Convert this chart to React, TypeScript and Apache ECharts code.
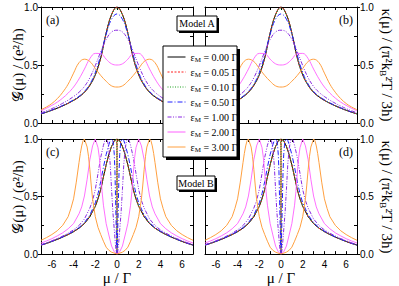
import React, { useEffect, useRef } from 'react';
import * as echarts from 'echarts';

// ---- data ----
const epsLabels = ['0.00', '0.05', '0.10', '0.50', '1.00', '2.00', '3.00'];
const xTickLabels = ['-6', '-4', '-2', '0', '2', '4', '6'];
const yTickLabels = ['0.0', '0.5', '1.0'];

// Model A grid (mu / Gamma)
const muA = [-7, -6.5, -6, -5.5, -5, -4.5, -4, -3.5, -3, -2.5, -2, -1.5, -1, -0.5, 0, 0.5, 1, 1.5, 2, 2.5, 3, 3.5, 4, 4.5, 5, 5.5, 6, 6.5, 7];
const gA_000 = [0.078, 0.093, 0.11, 0.128, 0.148, 0.17, 0.195, 0.225, 0.265, 0.325, 0.415, 0.56, 0.775, 0.935, 1.0, 0.935, 0.775, 0.56, 0.415, 0.325, 0.265, 0.225, 0.195, 0.17, 0.148, 0.128, 0.11, 0.093, 0.078];
const gA_005 = [0.078, 0.093, 0.11, 0.128, 0.148, 0.17, 0.195, 0.225, 0.265, 0.325, 0.415, 0.56, 0.775, 0.935, 0.998, 0.935, 0.775, 0.56, 0.415, 0.325, 0.265, 0.225, 0.195, 0.17, 0.148, 0.128, 0.11, 0.093, 0.078];
const gA_010 = [0.078, 0.093, 0.11, 0.128, 0.148, 0.17, 0.196, 0.226, 0.266, 0.327, 0.418, 0.563, 0.775, 0.93, 0.99, 0.93, 0.775, 0.563, 0.418, 0.327, 0.266, 0.226, 0.196, 0.17, 0.148, 0.128, 0.11, 0.093, 0.078];
const gA_050 = [0.08, 0.095, 0.112, 0.131, 0.151, 0.174, 0.2, 0.23, 0.272, 0.335, 0.435, 0.585, 0.765, 0.895, 0.94, 0.895, 0.765, 0.585, 0.435, 0.335, 0.272, 0.23, 0.2, 0.174, 0.151, 0.131, 0.112, 0.095, 0.08];
const gA_100 = [0.088, 0.105, 0.124, 0.146, 0.17, 0.197, 0.228, 0.265, 0.315, 0.39, 0.495, 0.615, 0.72, 0.785, 0.8, 0.785, 0.72, 0.615, 0.495, 0.39, 0.315, 0.265, 0.228, 0.197, 0.17, 0.146, 0.124, 0.105, 0.088];
const gA_200 = [0.105, 0.127, 0.152, 0.18, 0.215, 0.258, 0.31, 0.38, 0.465, 0.555, 0.6, 0.598, 0.55, 0.51, 0.5, 0.51, 0.55, 0.598, 0.6, 0.555, 0.465, 0.38, 0.31, 0.258, 0.215, 0.18, 0.152, 0.127, 0.105];
const gA_300 = [0.115, 0.138, 0.168, 0.21, 0.265, 0.335, 0.43, 0.52, 0.55, 0.53, 0.47, 0.41, 0.36, 0.32, 0.31, 0.32, 0.36, 0.41, 0.47, 0.53, 0.55, 0.52, 0.43, 0.335, 0.265, 0.21, 0.168, 0.138, 0.115];

// Model B curves as [mu, value] pairs
const gB_000 = [[-7, 0.078], [-6.5, 0.093], [-6, 0.11], [-5.5, 0.128], [-5, 0.148], [-4.5, 0.17], [-4, 0.195], [-3.5, 0.225], [-3, 0.265], [-2.5, 0.325], [-2, 0.415], [-1.75, 0.48], [-1.5, 0.56], [-1.25, 0.67], [-1, 0.775], [-0.75, 0.865], [-0.5, 0.935], [-0.25, 0.985], [0, 1], [0.25, 0.985], [0.5, 0.935], [0.75, 0.865], [1, 0.775], [1.25, 0.67], [1.5, 0.56], [1.75, 0.48], [2, 0.415], [2.5, 0.325], [3, 0.265], [3.5, 0.225], [4, 0.195], [4.5, 0.17], [5, 0.148], [5.5, 0.128], [6, 0.11], [6.5, 0.093], [7, 0.078]];
const gB_005 = [[-7, 0.078], [-6.5, 0.093], [-6, 0.11], [-5.5, 0.128], [-5, 0.148], [-4.5, 0.17], [-4, 0.195], [-3.5, 0.225], [-3, 0.265], [-2.5, 0.325], [-2, 0.415], [-1.75, 0.48], [-1.5, 0.56], [-1.25, 0.67], [-1, 0.775], [-0.75, 0.865], [-0.5, 0.935], [-0.25, 0.985], [-0.05, 1], [-0.005, 0.93], [-0.0025, 0.775], [-0.001, 0.3], [0, 0], [0.001, 0.3], [0.0025, 0.775], [0.005, 0.93], [0.05, 1], [0.25, 0.985], [0.5, 0.935], [0.75, 0.865], [1, 0.775], [1.25, 0.67], [1.5, 0.56], [1.75, 0.48], [2, 0.415], [2.5, 0.325], [3, 0.265], [3.5, 0.225], [4, 0.195], [4.5, 0.17], [5, 0.148], [5.5, 0.128], [6, 0.11], [6.5, 0.093], [7, 0.078]];
const gB_010 = [[-7, 0.078], [-6.5, 0.093], [-6, 0.11], [-5.5, 0.128], [-5, 0.148], [-4.5, 0.17], [-4, 0.195], [-3.5, 0.226], [-3, 0.266], [-2.5, 0.326], [-2, 0.417], [-1.75, 0.482], [-1.5, 0.562], [-1.25, 0.672], [-1, 0.778], [-0.75, 0.868], [-0.5, 0.937], [-0.25, 0.98], [-0.1, 1], [-0.025, 0.96], [-0.0125, 0.82], [-0.005, 0.4], [0, 0], [0.005, 0.4], [0.0125, 0.82], [0.025, 0.96], [0.1, 1], [0.25, 0.98], [0.5, 0.937], [0.75, 0.868], [1, 0.778], [1.25, 0.672], [1.5, 0.562], [1.75, 0.482], [2, 0.417], [2.5, 0.326], [3, 0.266], [3.5, 0.226], [4, 0.195], [4.5, 0.17], [5, 0.148], [5.5, 0.128], [6, 0.11], [6.5, 0.093], [7, 0.078]];
const gB_050 = [[-7, 0.079], [-6.5, 0.094], [-6, 0.111], [-5.5, 0.13], [-5, 0.15], [-4.5, 0.173], [-4, 0.199], [-3.5, 0.23], [-3, 0.273], [-2.5, 0.34], [-2, 0.445], [-1.75, 0.525], [-1.5, 0.63], [-1.25, 0.755], [-1, 0.865], [-0.75, 0.95], [-0.625, 0.987], [-0.5, 1], [-0.4375, 0.996], [-0.375, 0.98], [-0.3125, 0.94], [-0.25, 0.865], [-0.1875, 0.715], [-0.125, 0.445], [-0.0625, 0.199], [-0.03, 0.058], [0, 0], [0.03, 0.058], [0.0625, 0.199], [0.125, 0.445], [0.1875, 0.715], [0.25, 0.865], [0.3125, 0.94], [0.375, 0.98], [0.4375, 0.996], [0.5, 1], [0.625, 0.987], [0.75, 0.95], [1, 0.865], [1.25, 0.755], [1.5, 0.63], [1.75, 0.525], [2, 0.445], [2.5, 0.34], [3, 0.273], [3.5, 0.23], [4, 0.199], [4.5, 0.173], [5, 0.15], [5.5, 0.13], [6, 0.111], [6.5, 0.094], [7, 0.079]];
const gB_100 = [[-7, 0.082], [-6.5, 0.098], [-6, 0.116], [-5.5, 0.135], [-5, 0.157], [-4.5, 0.182], [-4, 0.21], [-3.5, 0.248], [-3, 0.305], [-2.5, 0.4], [-2.25, 0.465], [-2, 0.56], [-1.75, 0.7], [-1.5, 0.84], [-1.25, 0.945], [-1.125, 0.986], [-1, 1], [-0.875, 0.983], [-0.75, 0.915], [-0.625, 0.78], [-0.5, 0.56], [-0.375, 0.36], [-0.25, 0.21], [-0.125, 0.063], [-0.0625, 0.02], [0, 0], [0.0625, 0.02], [0.125, 0.063], [0.25, 0.21], [0.375, 0.36], [0.5, 0.56], [0.625, 0.78], [0.75, 0.915], [0.875, 0.983], [1, 1], [1.125, 0.986], [1.25, 0.945], [1.5, 0.84], [1.75, 0.7], [2, 0.56], [2.25, 0.465], [2.5, 0.4], [3, 0.305], [3.5, 0.248], [4, 0.21], [4.5, 0.182], [5, 0.157], [5.5, 0.135], [6, 0.116], [6.5, 0.098], [7, 0.082]];
const gB_200 = [[-7, 0.096], [-6.5, 0.114], [-6, 0.134], [-5.5, 0.158], [-5, 0.185], [-4.5, 0.22], [-4, 0.265], [-3.5, 0.35], [-3.25, 0.41], [-3, 0.505], [-2.75, 0.65], [-2.5, 0.82], [-2.25, 0.94], [-2, 1], [-1.75, 0.925], [-1.625, 0.84], [-1.5, 0.705], [-1.375, 0.545], [-1.25, 0.425], [-1, 0.265], [-0.75, 0.166], [-0.5, 0.07], [-0.25, 0.02], [0, 0], [0.25, 0.02], [0.5, 0.07], [0.75, 0.166], [1, 0.265], [1.25, 0.425], [1.375, 0.545], [1.5, 0.705], [1.625, 0.84], [1.75, 0.925], [2, 1], [2.25, 0.94], [2.5, 0.82], [2.75, 0.65], [3, 0.505], [3.25, 0.41], [3.5, 0.35], [4, 0.265], [4.5, 0.22], [5, 0.185], [5.5, 0.158], [6, 0.134], [6.5, 0.114], [7, 0.096]];
const gB_300 = [[-7, 0.12], [-6.5, 0.143], [-6, 0.17], [-5.5, 0.203], [-5, 0.25], [-4.5, 0.325], [-4.25, 0.395], [-4, 0.48], [-3.75, 0.625], [-3.5, 0.795], [-3.375, 0.875], [-3.25, 0.94], [-3.125, 0.985], [-3, 1], [-2.75, 0.93], [-2.625, 0.85], [-2.5, 0.735], [-2.375, 0.6], [-2.25, 0.48], [-2, 0.325], [-1.75, 0.232], [-1.5, 0.17], [-1.25, 0.112], [-1, 0.06], [-0.75, 0.033], [-0.5, 0.017], [0, 0], [0.5, 0.017], [0.75, 0.033], [1, 0.06], [1.25, 0.112], [1.5, 0.17], [1.75, 0.232], [2, 0.325], [2.25, 0.48], [2.375, 0.6], [2.5, 0.735], [2.625, 0.85], [2.75, 0.93], [3, 1], [3.125, 0.985], [3.25, 0.94], [3.375, 0.875], [3.5, 0.795], [3.75, 0.625], [4, 0.48], [4.25, 0.395], [4.5, 0.325], [5, 0.25], [5.5, 0.203], [6, 0.17], [6.5, 0.143], [7, 0.12]];

// kappa panels: within reading accuracy identical to the conductance panels
const kA = [gA_000, gA_005, gA_010, gA_050, gA_100, gA_200, gA_300];
const kB = [gB_000, gB_005, gB_010, gB_050, gB_100, gB_200, gB_300];
const gA = [gA_000, gA_005, gA_010, gA_050, gA_100, gA_200, gA_300];
const gB = [gB_000, gB_005, gB_010, gB_050, gB_100, gB_200, gB_300];

const SERIF = 'Liberation Serif';
const SANS = 'Liberation Sans';

const lineStyles: any[] = [
  { color: '#000000', type: 'solid', width: 1 },
  { color: '#ff2020', type: [2, 1.5], width: 1 },
  { color: '#20a020', type: [1, 1.5], width: 1 },
  { color: '#2020ff', type: [5, 2, 1, 2], width: 1 },
  { color: '#8a2be2', type: [4, 1.5, 1, 1.5, 1, 1.5], width: 1 },
  { color: '#ff60ff', type: 'solid', width: 0.9 },
  { color: '#ffa040', type: 'solid', width: 1 },
];

const grids = [
  { left: 41, top: 7, width: 152, height: 116 },
  { left: 205, top: 7, width: 152, height: 116 },
  { left: 41, top: 139, width: 152, height: 116 },
  { left: 205, top: 139, width: 152, height: 116 },
];

function pairs(xs: number[], ys: number[]) {
  return xs.map((x, i) => [x, ys[i]]);
}

export default function App() {
  const ref = useRef<HTMLDivElement>(null);
  useEffect(() => {
    if (!ref.current) return;
    const chart = echarts.init(ref.current, null, { renderer: 'svg' });
    const black = { color: '#000', width: 1 };
    const xAxis: any[] = [];
    const yAxis: any[] = [];
    grids.forEach((_, g) => {
      const bottomRow = g >= 2;
      const rightCol = g % 2 === 1;
      xAxis.push({
        type: 'value', gridIndex: g, min: -7, max: 7, interval: 1, position: 'bottom',
        axisLine: { show: true, onZero: false, lineStyle: black },
        axisTick: { show: true, inside: true, length: 3, lineStyle: black },
        axisLabel: {
          show: bottomRow, color: '#000', fontFamily: SANS, fontSize: 10, margin: 5,
          formatter: (v: number) => (xTickLabels.indexOf(String(v)) >= 0 ? String(v) : ''),
        },
        splitLine: { show: false },
        name: bottomRow ? 'μ / Γ' : '', nameLocation: 'middle', nameGap: 15,
        nameTextStyle: { fontFamily: SERIF, fontSize: 15, color: '#000' },
      });
      xAxis.push({
        type: 'value', gridIndex: g, min: -7, max: 7, interval: 1, position: 'top',
        axisLine: { show: true, onZero: false, lineStyle: black },
        axisTick: { show: true, inside: true, length: 3, lineStyle: black },
        axisLabel: { show: false }, splitLine: { show: false },
      });
      const mainPos = rightCol ? 'right' : 'left';
      const otherPos = rightCol ? 'left' : 'right';
      yAxis.push({
        type: 'value', gridIndex: g, min: 0, max: 1, interval: 0.5, position: mainPos,
        axisLine: { show: true, onZero: false, lineStyle: black },
        axisTick: { show: true, inside: false, length: 3, lineStyle: black },
        axisLabel: {
          show: true, color: '#000', fontFamily: SANS, fontSize: 10, margin: 3,
          formatter: (v: number) => yTickLabels[Math.round(v * 2)],
        },
        splitLine: { show: false },
      });
      yAxis.push({
        type: 'value', gridIndex: g, min: 0, max: 1, interval: 0.25, position: mainPos,
        axisLine: { show: false, onZero: false },
        axisTick: { show: true, inside: true, length: 3, lineStyle: black },
        axisLabel: { show: false }, splitLine: { show: false },
      });
      yAxis.push({
        type: 'value', gridIndex: g, min: 0, max: 1, interval: 0.25, position: otherPos,
        axisLine: { show: true, onZero: false, lineStyle: black },
        axisTick: { show: true, inside: true, length: 3, lineStyle: black },
        axisLabel: { show: false }, splitLine: { show: false },
      });
    });

    const series: any[] = [];
    grids.forEach((_, g) => {
      epsLabels.forEach((lab, k) => {
        const modelA = g < 2;
        const src = modelA ? (g === 0 ? gA[k] : kA[k]) : (g === 2 ? gB[k] : kB[k]);
        series.push({
          type: 'line', name: lab, xAxisIndex: 2 * g, yAxisIndex: 3 * g,
          data: modelA ? pairs(muA, src as number[]) : src,
          showSymbol: false, symbol: 'none', smooth: modelA ? 0.4 : false,
          lineStyle: lineStyles[k], itemStyle: { color: lineStyles[k].color },
          silent: true, z: 2, clip: true,
        });
      });
    });

    const titleRich = {
      n: { fontFamily: SERIF, fontSize: 15, lineHeight: 18, verticalAlign: 'middle', fill: '#000' },
      b: { fontFamily: SERIF, fontSize: 9, lineHeight: 9, verticalAlign: 'bottom', fill: '#000' },
    };
    const leftTitle = (y: number) => ({
      type: 'text', x: 18, y, rotation: Math.PI / 2, z: 20,
      style: {
        text: '𝒢(μ) / (e²/h)', x: 0, y: 0, fill: '#000',
        font: `15px "${SERIF}"`, align: 'center', verticalAlign: 'middle',
        textAlign: 'center', textVerticalAlign: 'middle',
      },
    });
    const rightTitle = (y: number) => ({
      type: 'text', x: 387, y, rotation: -Math.PI / 2, z: 20,
      style: {
        text: '{n|κ(μ) / (π²k}{b|B}{n|²T / 3h)}', rich: titleRich, x: 0, y: 0, fill: '#000',
        font: `15px "${SERIF}"`, align: 'center', verticalAlign: 'middle',
        textAlign: 'center', textVerticalAlign: 'middle',
      },
    });
    const panelLabel = (t: string, x: number, y: number) => ({
      type: 'text', x, y, z: 20,
      style: { text: t, fill: '#000', font: `12px "${SERIF}"`, verticalAlign: 'middle', textVerticalAlign: 'middle' },
    });
    const boxWithShadow = (x: number, y: number, w: number, h: number, sh: number) => [
      { type: 'rect', z: 30, shape: { x: x + sh, y: y + sh, width: w, height: h }, style: { fill: '#000' } },
      { type: 'rect', z: 31, shape: { x, y, width: w, height: h }, style: { fill: '#fff', stroke: '#000', lineWidth: 1 } },
    ];
    const modelText = (t: string, x: number, y: number) => ({
      type: 'text', x, y, z: 32,
      style: {
        text: t, fill: '#000', font: `10px "${SERIF}"`, align: 'center', verticalAlign: 'middle',
        textAlign: 'center', textVerticalAlign: 'middle',
      },
    });

    chart.setOption({
      animation: false,
      backgroundColor: '#fff',
      grid: grids.map((g) => ({ ...g, containLabel: false })),
      xAxis, yAxis, series,
      legend: {
        show: true, selectedMode: false, orient: 'vertical', left: 164, top: 47, z: 40,
        padding: [4, 3, 4, 3], itemWidth: 18, itemHeight: 8, itemGap: 3,
        data: epsLabels,
        itemStyle: { opacity: 0, borderWidth: 0 },
        lineStyle: { width: 1 },
        formatter: (n: string) => `{e|ε}{s|M}{t| = ${n} Γ}`,
        textStyle: {
          color: '#000', fontFamily: SERIF, fontSize: 10, lineHeight: 12,
          rich: {
            e: { fontFamily: SERIF, fontSize: 10, lineHeight: 12, color: '#000' },
            s: { fontFamily: SERIF, fontSize: 7, lineHeight: 7, verticalAlign: 'bottom', color: '#000' },
            t: { fontFamily: SERIF, fontSize: 10, lineHeight: 12, color: '#000' },
          },
        },
      },
      graphic: [
        leftTitle(65), leftTitle(197), rightTitle(65), rightTitle(197),
        panelLabel('(a)', 46, 20), panelLabel('(b)', 339, 20),
        panelLabel('(c)', 46, 152), panelLabel('(d)', 339, 152),
        ...boxWithShadow(177, 16, 40, 15, 2), modelText('Model A', 197, 23.5),
        ...boxWithShadow(177, 176, 38, 14, 2), modelText('Model B', 196, 183),
        ...boxWithShadow(163, 46, 74, 111, 3),
      ],
    });
    return () => chart.dispose();
  }, []);
  return <div ref={ref} style={{ position: 'absolute', left: 0, top: 0, width: 399, height: 286 }} />;
}
